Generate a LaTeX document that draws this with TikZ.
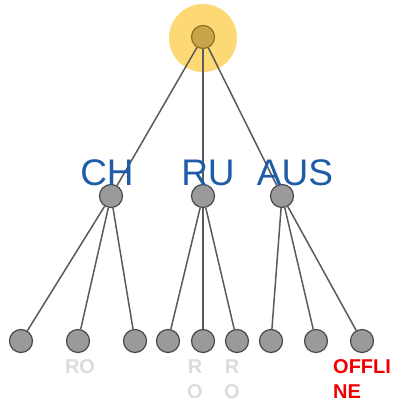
\documentclass[tikz,border=0pt]{standalone}
\usepackage{fontspec}
\setmainfont{Liberation Sans}
\definecolor{linegray}{HTML}{5A5A5A}
\definecolor{nodefill}{HTML}{9A9A9A}
\definecolor{nodeedge}{HTML}{4A4A4A}
\definecolor{rootfill}{HTML}{C9A44A}
\definecolor{rootedge}{HTML}{8C6E22}
\definecolor{halo}{HTML}{FDD976}
\definecolor{labelblue}{HTML}{1F5CA8}
\definecolor{offred}{HTML}{F00000}
\definecolor{rogray}{HTML}{DCDCDC}
\tikzset{
  dot/.style={circle, draw=nodeedge, fill=nodefill, line width=1.2pt, minimum size=23pt, inner sep=0pt},
  rootdot/.style={circle, draw=rootedge, fill=rootfill, line width=1.2pt, minimum size=23pt, inner sep=0pt},
  link/.style={draw=linegray, line width=1.5pt},
  region/.style={text=labelblue, font=\fontsize{37}{40}\selectfont, anchor=base, inner sep=0pt},
  rolabel/.style={text=rogray, font=\fontsize{20}{25}\selectfont\bfseries, inner sep=0pt, align=center, anchor=base},
  offlabel/.style={text=offred, font=\fontsize{20}{25}\selectfont\bfseries, inner sep=0pt, align=left, anchor=base west}
}
\begin{document}
\begin{tikzpicture}[x=1pt, y=-1pt]
  \useasboundingbox[fill=white] (0,0) rectangle (397,401);
  % glow around the root
  \fill[halo] (203,38) circle (34);
  % nodes
  \node[rootdot] (root) at (203,37) {};
  \node[dot] (ch)  at (111,196) {};
  \node[dot] (ru)  at (203,196) {};
  \node[dot] (aus) at (282,196) {};
  \node[dot] (l1) at (21,341) {};
  \node[dot] (l2) at (78,341) {};
  \node[dot] (l3) at (135,341) {};
  \node[dot] (l4) at (168,341) {};
  \node[dot] (l5) at (203,341) {};
  \node[dot] (l6) at (237,341) {};
  \node[dot] (l7) at (271,341) {};
  \node[dot] (l8) at (316,341) {};
  \node[dot] (l9) at (362,341) {};
  % links
  \foreach \a/\b in {root/ch, root/ru, root/aus,
                     ch/l1, ch/l2, ch/l3,
                     ru/l4, ru/l5, ru/l6,
                     aus/l7, aus/l8, aus/l9}
    \draw[link] (\a) -- (\b);
  % region labels
  \node[region] (tch)  at (107,185) {CH};
  \node[region] (tru)  at (208,185) {RU};
  \node[region] (taus) at (295,185) {AUS};
  % status labels (base anchor sits on the last line)
  \node[rolabel] (s2) at (80,373) {RO};
  \node[rolabel] (s5) at (195,398) {R\\O};
  \node[rolabel] (s6) at (232,398) {R\\O};
  \node[offlabel] (s9) at (333,398) {OFFLI\\NE};
\end{tikzpicture}
\end{document}
